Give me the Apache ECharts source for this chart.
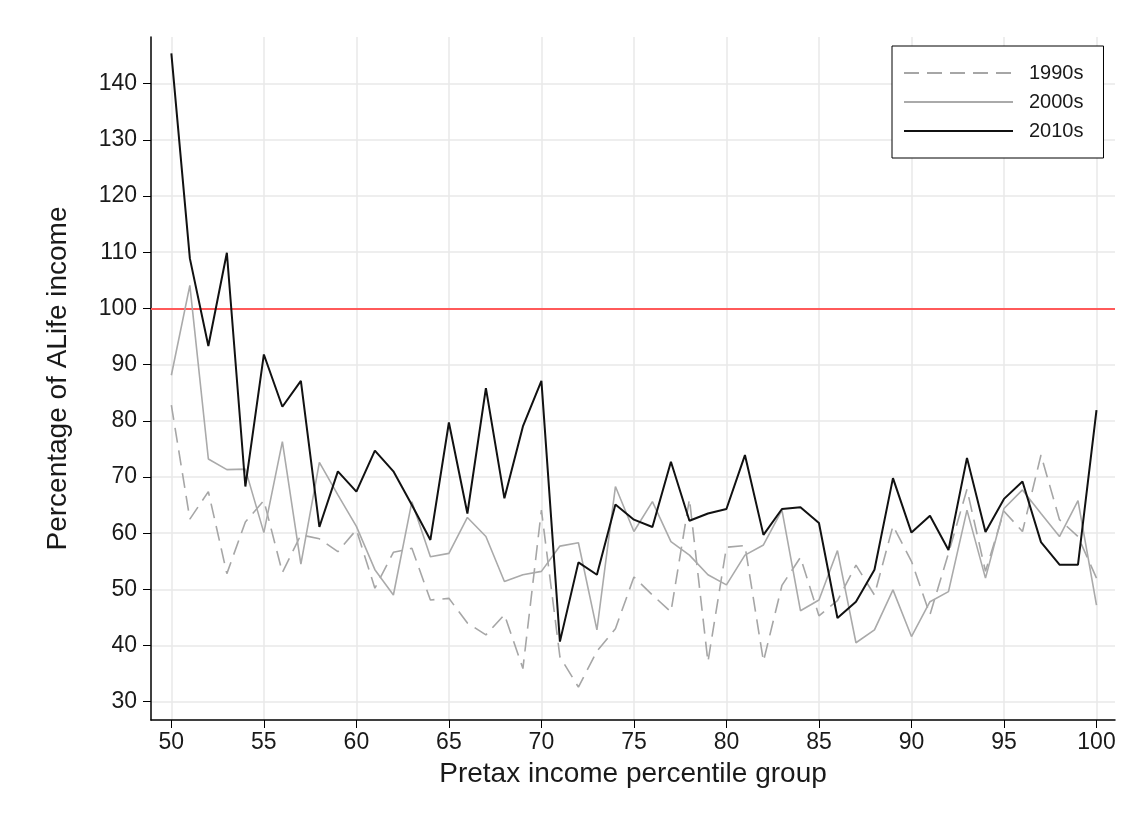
<!DOCTYPE html>
<html>
<head>
<meta charset="utf-8">
<script src="https://cdn.jsdelivr.net/npm/echarts@6/dist/echarts.min.js"></script>
<style>
html,body{margin:0;padding:0;background:#fff;}
#chart{width:1140px;height:827px;}
</style>
</head>
<body>
<div id="chart"></div>
<script>
const percentiles = [50,51,52,53,54,55,56,57,58,59,60,61,62,63,64,65,66,67,68,69,70,71,72,73,74,75,76,77,78,79,80,81,82,83,84,85,86,87,88,89,90,91,92,93,94,95,96,97,98,99,100];
const s1990s = [82.8,62.5,67.4,52.8,62.0,65.8,53.0,59.7,59.0,56.7,60.6,50.2,56.6,57.3,48.1,48.4,44.0,41.9,45.5,35.9,64.1,38.0,32.6,39.0,43.0,52.2,49.0,46.0,66.1,37.1,57.5,57.8,37.2,50.7,55.7,45.3,48.0,54.3,49.0,61.3,55.0,45.5,56.4,67.8,53.2,63.9,60.3,73.9,62.4,59.4,52.0];
const s2000s = [88.1,104.1,73.2,71.3,71.4,60.1,76.3,54.5,72.6,66.8,61.2,53.5,49.0,65.6,55.8,56.4,62.8,59.4,51.4,52.6,53.2,57.7,58.3,42.8,68.3,60.3,65.6,58.5,56.1,52.6,50.8,56.1,57.9,64.1,46.2,48.1,56.9,40.5,42.8,49.9,41.6,47.8,49.6,64.1,52.0,64.4,67.7,63.5,59.4,65.8,47.2];
const s2010s = [145.4,108.9,93.3,109.9,68.3,91.8,82.5,87.1,61.1,71.0,67.4,74.7,71.0,65.0,58.8,79.7,63.5,85.8,66.2,79.0,87.1,40.7,54.8,52.6,65.1,62.4,61.1,72.7,62.2,63.5,64.3,73.9,59.7,64.3,64.6,61.8,44.9,47.8,53.5,69.8,60.1,63.1,57.0,73.4,60.2,66.1,69.2,58.4,54.4,54.4,81.9];
const seriesNames = ['1990s','2000s','2010s'];
const xTicks = [50,55,60,65,70,75,80,85,90,95,100];
const yTicks = [30,40,50,60,70,80,90,100,110,120,130,140];
const referenceLine = 100;

const pairs = arr => arr.map((v, i) => [percentiles[i], v]);
const FONT = 'Liberation Sans, Arial, sans-serif';

const chart = echarts.init(document.getElementById('chart'), null, {renderer: 'canvas'});
chart.setOption({
  animation: false,
  backgroundColor: '#fff',
  grid: {left: 151, right: 25, top: 37, bottom: 107, containLabel: false},
  legend: {
    orient: 'vertical',
    left: 892, top: 46,
    padding: [17, 20, 17, 11],
    itemGap: 9,
    itemWidth: 109,
    itemHeight: 14,
    borderColor: '#000',
    borderWidth: 1,
    backgroundColor: '#fff',
    itemStyle: {opacity: 0},
    data: seriesNames,
    textStyle: {fontFamily: FONT, fontSize: 20, color: '#1a1a1a', lineHeight: 20, padding: [0, 0, 0, 11]}
  },
  xAxis: {
    type: 'value',
    min: 48.9, max: 101,
    name: 'Pretax income percentile group',
    nameLocation: 'middle',
    nameGap: 40,
    nameTextStyle: {fontFamily: FONT, fontSize: 28, color: '#1a1a1a'},
    axisLine: {show: true, lineStyle: {color: '#000', width: 1.5}},
    axisTick: {show: true, inside: false, length: 8, lineStyle: {color: '#000', width: 1}, customValues: xTicks},
    axisLabel: {fontFamily: FONT, fontSize: 23, color: '#1a1a1a', margin: 11, customValues: xTicks},
    splitLine: {show: true, lineStyle: {color: '#e8e8e8', width: 1.5}}
  },
  yAxis: {
    type: 'value',
    min: 26.75, max: 148.3,
    name: 'Percentage of ALife income',
    nameLocation: 'middle',
    nameRotate: 90,
    nameGap: 79,
    nameTextStyle: {fontFamily: FONT, fontSize: 28, color: '#1a1a1a'},
    axisLine: {show: true, lineStyle: {color: '#000', width: 1.5}},
    axisTick: {show: true, inside: false, length: 8, lineStyle: {color: '#000', width: 1}, customValues: yTicks},
    axisLabel: {fontFamily: FONT, fontSize: 23, color: '#1a1a1a', margin: 14, customValues: yTicks},
    splitLine: {show: true, lineStyle: {color: '#e8e8e8', width: 1.5}}
  },
  series: [
    {
      name: '1990s', type: 'line', data: pairs(s1990s), symbol: 'none', z: 2,
      lineStyle: {color: '#a6a6a6', width: 1.6, type: [15, 8]},
      itemStyle: {color: '#a6a6a6'},
      markLine: {
        silent: true, symbol: 'none', z: 1,
        label: {show: false},
        lineStyle: {color: '#ff5a5a', width: 2, type: 'solid'},
        data: [{yAxis: referenceLine}]
      }
    },
    {
      name: '2000s', type: 'line', data: pairs(s2000s), symbol: 'none', z: 3,
      lineStyle: {color: '#aaaaaa', width: 1.6},
      itemStyle: {color: '#aaaaaa'}
    },
    {
      name: '2010s', type: 'line', data: pairs(s2010s), symbol: 'none', z: 4,
      lineStyle: {color: '#111111', width: 2},
      itemStyle: {color: '#111111'}
    }
  ]
});
</script>
</body>
</html>
